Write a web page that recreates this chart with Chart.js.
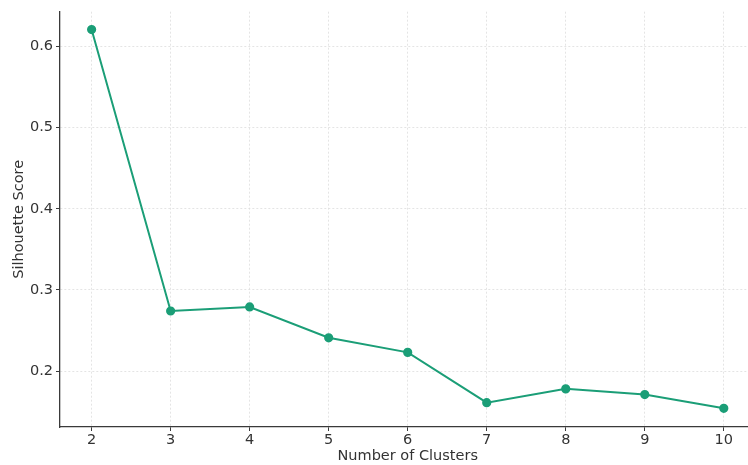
<!DOCTYPE html>
<html>
<head>
<meta charset="utf-8">
<script src="https://cdn.jsdelivr.net/npm/chart.js@4/dist/chart.umd.min.js"></script>
<style>
  html, body { margin: 0; padding: 0; background: #fff; overflow: hidden; }
</style>
</head>
<body>
<canvas id="silhouette-chart" width="761" height="465"></canvas>
<script>
// number of clusters vs. silhouette score
const clusters = [2, 3, 4, 5, 6, 7, 8, 9, 10];
const scores = [0.621, 0.274, 0.279, 0.241, 0.223, 0.161, 0.178, 0.171, 0.154];
const yTicks = [0.2, 0.3, 0.4, 0.5, 0.6];

const green = '#1b9e77';
const axisColor = '#3a3a3a';
const gridColor = '#dedede';
const font = { family: 'DejaVu Sans', size: 14.5 };

const ctx = document.getElementById('silhouette-chart');
new Chart(ctx, {
    type: 'line',
    data: {
        datasets: [{
            label: 'Silhouette Score',
            data: clusters.map((c, i) => ({ x: c, y: scores[i] })),
            borderColor: green,
            backgroundColor: green,
            borderWidth: 2,
            pointRadius: 3.6,
            pointHoverRadius: 3.6,
            tension: 0,
            fill: false
        }]
    },
    options: {
        responsive: false,
        animation: false,
        layout: { padding: { top: 11, left: 0, right: 0, bottom: 0 } },
        plugins: {
            legend: { display: false },
            tooltip: { enabled: false }
        },
        scales: {
            x: {
                type: 'linear',
                min: 1.6,
                max: 10.4,
                afterBuildTicks: (scale) => { scale.ticks = clusters.map(v => ({ value: v })); },
                afterFit: (scale) => { scale.height = 38; },
                ticks: {
                    color: '#333',
                    font: font,
                    padding: 1,
                    maxRotation: 0,
                    callback: (v) => String(v)
                },
                grid: {
                    color: gridColor,
                    lineWidth: 0.8,
                    tickLength: 4,
                    tickColor: axisColor,
                    tickWidth: 1
                },
                border: { display: true, color: axisColor, width: 1.3, dash: [2, 2] },
                title: {
                    display: true,
                    text: 'Number of Clusters',
                    color: '#333',
                    font: font,
                    padding: { top: 0, bottom: 0 }
                }
            },
            y: {
                type: 'linear',
                min: 0.131,
                max: 0.643,
                afterBuildTicks: (scale) => { scale.ticks = yTicks.map(v => ({ value: v })); },
                afterFit: (scale) => { scale.width = 60; },
                ticks: {
                    color: '#333',
                    font: font,
                    padding: 3,
                    callback: (v) => v.toFixed(1)
                },
                grid: {
                    color: gridColor,
                    lineWidth: 0.8,
                    tickLength: 4,
                    tickColor: axisColor,
                    tickWidth: 1
                },
                border: { display: true, color: axisColor, width: 1.3, dash: [2, 2] },
                title: {
                    display: true,
                    text: 'Silhouette Score',
                    color: '#333',
                    font: font,
                    padding: { top: 11, bottom: 0 }
                }
            }
        }
    }
});
</script>
</body>
</html>
